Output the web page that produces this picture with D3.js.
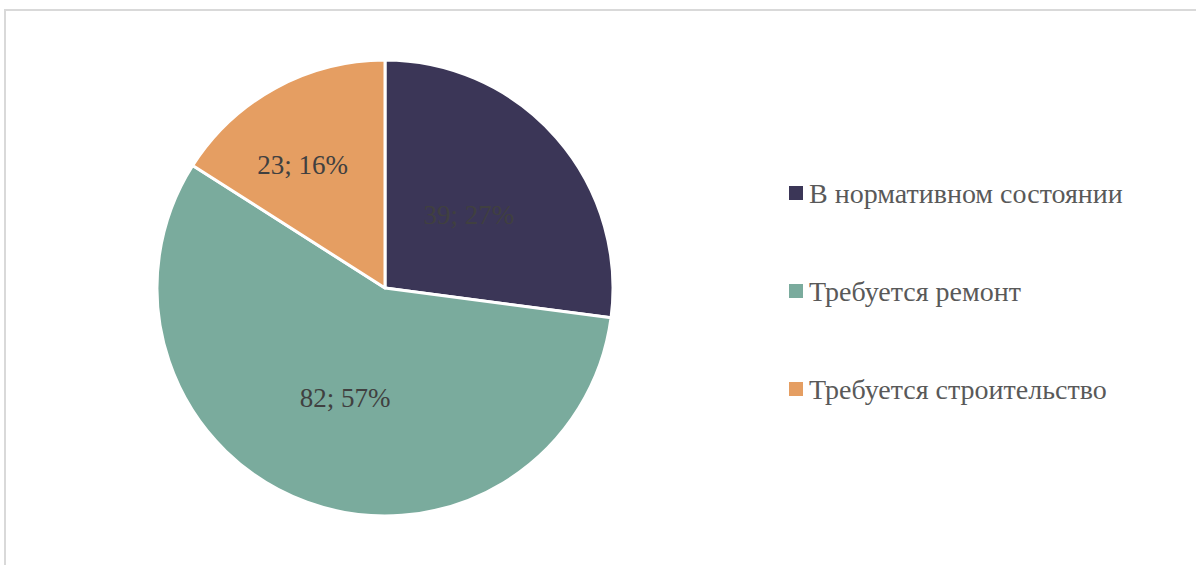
<!DOCTYPE html>
<html>
<head>
<meta charset="utf-8">
<script src="https://cdn.jsdelivr.net/npm/d3@7"></script>
<style>
  body { margin: 0; background: #fff; }
  svg { display: block; }
  text { font-family: "Times New Roman", "Liberation Serif", "DejaVu Serif", serif; }
</style>
</head>
<body>
<svg id="pie-chart" width="1196" height="565"></svg>
<script>
"use strict";

//Categories and values
var categories = ["В нормативном состоянии", "Требуется ремонт", "Требуется строительство"];
var values = [39, 82, 23];
var percents = ["27%", "57%", "16%"];
var colors = ["#3b3657", "#7aab9d", "#e59e62"];

//Where each label sits: share of the radius and turn in degrees (Excel's best fit)
var labelRadius = [0.49, 0.51, 0.65];
var labelTurn = [0, 0, -5];

var svg = d3.select("#pie-chart");

//Chart area frame
svg.append("rect")
  .attr("x", 5)
  .attr("y", 10)
  .attr("width", 1200)
  .attr("height", 600)
  .attr("fill", "#fff")
  .attr("stroke", "#d9d9d9")
  .attr("stroke-width", 2);

var cx = 385, cy = 288, radius = 228;

var g = svg.append("g").attr("transform", "translate(" + cx + "," + cy + ")");

var pie = d3.pie().sort(null).value(function(d) { return d; });
var arcs = pie(values);

var arc = d3.arc().innerRadius(0).outerRadius(radius);

g.selectAll(".slice")
  .data(arcs)
  .enter().append("path")
  .attr("class", "slice")
  .attr("d", arc)
  .attr("fill", function(d, i) { return colors[i]; })
  .attr("stroke", "#fff")
  .attr("stroke-width", 3)
  .attr("stroke-linejoin", "round");

//Data labels
g.selectAll(".label")
  .data(arcs)
  .enter().append("text")
  .attr("class", "label")
  .attr("transform", function(d, i) {
    var r = radius * labelRadius[i];
    var a = (d.startAngle + d.endAngle) / 2 + labelTurn[i] * Math.PI / 180;
    return "translate(" + (r * Math.sin(a)) + "," + (-r * Math.cos(a)) + ")";
  })
  .attr("text-anchor", "middle")
  .attr("dy", "0.35em")
  .attr("fill", "#404040")
  .style("font-size", "27px")
  .text(function(d, i) { return values[i] + "; " + percents[i]; });

//Legend
var legend = svg.append("g").attr("transform", "translate(789,193)");

var item = legend.selectAll(".legend-item")
  .data(categories)
  .enter().append("g")
  .attr("class", "legend-item")
  .attr("transform", function(d, i) { return "translate(0," + (i * 98) + ")"; });

item.append("rect")
  .attr("x", 0)
  .attr("y", -7)
  .attr("width", 14)
  .attr("height", 14)
  .attr("fill", function(d, i) { return colors[i]; });

item.append("text")
  .attr("x", 20)
  .attr("dy", "0.35em")
  .attr("fill", "#595959")
  .style("font-size", "28px")
  .text(function(d) { return d; });
</script>
</body>
</html>
